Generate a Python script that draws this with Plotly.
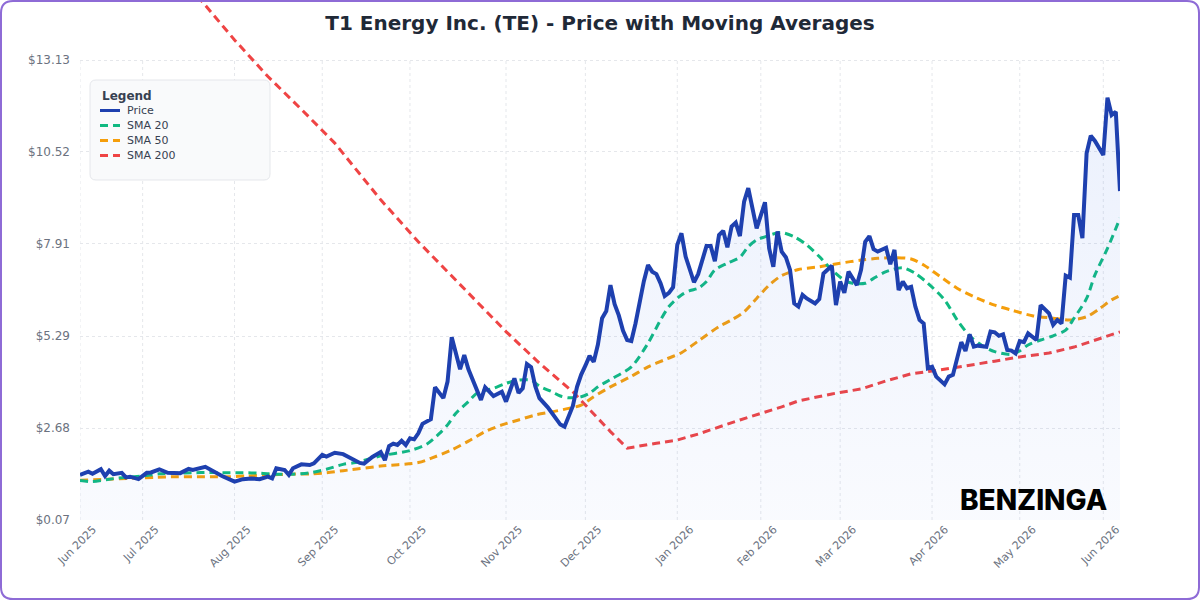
import plotly.graph_objects as go

# ---------------- data (trading-day index -> value) ----------------
month_tick_days = [0, 15, 37, 58, 79, 102, 121, 143, 163, 182, 204, 225, 245]
month_tick_labels = ["Jun 2025", "Jul 2025", "Aug 2025", "Sep 2025", "Oct 2025", "Nov 2025",
                     "Dec 2025", "Jan 2026", "Feb 2026", "Mar 2026", "Apr 2026", "May 2026", "Jun 2026"]
y_tick_values = [0.07, 2.68, 5.29, 7.91, 10.52, 13.13]
y_tick_labels = ["$0.07", "$2.68", "$5.29", "$7.91", "$10.52", "$13.13"]

price_day = [
    0, 2, 3, 5, 6, 7, 8, 10, 11, 12,
    14, 16, 17, 19, 21, 22, 24, 26, 27, 30,
    31, 33, 34, 37, 39, 41, 43, 45, 46, 47,
    49, 50, 51, 53, 55, 56, 58, 59, 61, 63,
    65, 67, 68, 70, 72, 73, 74, 75, 76, 77,
    78, 79, 80, 81, 82, 84, 85, 87, 88, 89,
    91, 92, 93, 95, 96, 97, 99, 101, 102, 103,
    104, 105, 106, 107, 108, 109, 110, 112, 114, 115,
    116, 117, 118, 119, 120, 121, 122, 123, 124, 125,
    126, 127, 128, 129, 130, 131, 132, 133, 134, 135,
    136, 137, 138, 139, 140, 141, 142, 143, 144, 145,
    147, 148, 150, 151, 152, 153, 154, 155, 156, 157,
    158, 159, 160, 162, 164, 165, 166, 167, 168, 169,
    170, 171, 172, 173, 174, 176, 177, 178, 180, 181,
    182, 183, 184, 186, 187, 188, 189, 190, 191, 193,
    194, 195, 196, 197, 198, 199, 200, 201, 202, 203,
    204, 205, 207, 208, 209, 211, 212, 213, 214, 215,
    217, 218, 219, 220, 221, 222, 223, 224, 225, 226,
    227, 229, 230, 232, 233, 234, 235, 236, 237, 238,
    239, 240, 241, 242, 243, 245, 246, 247, 248, 249]
price_value = [
    1.35, 1.44, 1.38, 1.51, 1.32, 1.47, 1.37, 1.41, 1.28, 1.30,
    1.23, 1.41, 1.42, 1.51, 1.41, 1.41, 1.40, 1.52, 1.49, 1.58,
    1.51, 1.40, 1.32, 1.16, 1.23, 1.25, 1.23, 1.30, 1.25, 1.54,
    1.49, 1.35, 1.54, 1.65, 1.63, 1.68, 1.92, 1.87, 1.98, 1.94,
    1.83, 1.69, 1.67, 1.86, 2.00, 1.77, 2.17, 2.24, 2.20, 2.32,
    2.20, 2.39, 2.36, 2.53, 2.80, 2.93, 3.84, 3.53, 4.00, 5.26,
    4.35, 4.75, 4.35, 3.76, 3.48, 3.84, 3.59, 3.71, 3.43, 3.76,
    4.09, 3.68, 3.81, 4.50, 4.41, 3.87, 3.53, 3.27, 2.96, 2.78,
    2.72, 3.05, 3.31, 3.85, 4.20, 4.45, 4.73, 4.56, 5.05, 5.80,
    6.00, 6.74, 6.20, 5.88, 5.45, 5.18, 5.15, 5.65, 6.30, 6.85,
    7.31, 7.12, 7.05, 6.79, 6.43, 6.52, 6.68, 7.88, 8.21, 7.55,
    6.82, 7.05, 7.85, 7.85, 7.42, 8.16, 8.28, 7.81, 8.40, 8.51,
    8.13, 9.11, 9.49, 8.35, 9.09, 7.78, 7.26, 8.26, 7.69, 7.53,
    7.17, 6.22, 6.13, 6.46, 6.36, 6.22, 6.34, 7.07, 7.29, 6.17,
    6.84, 6.52, 7.12, 6.74, 7.17, 7.97, 8.13, 7.76, 7.69, 7.80,
    7.33, 7.74, 6.60, 6.84, 6.65, 6.69, 6.13, 5.75, 5.65, 4.38,
    4.42, 4.14, 3.92, 4.14, 4.19, 5.12, 4.87, 5.34, 4.99, 5.02,
    4.99, 5.42, 5.40, 5.30, 5.34, 4.90, 4.88, 4.80, 5.15, 5.12,
    5.37, 5.18, 6.17, 5.94, 5.61, 5.75, 5.65, 7.01, 6.95, 8.73,
    8.73, 8.07, 10.48, 10.98, 10.83, 10.43, 12.06, 11.57, 11.66, 9.41]

sma20_day = [0, 3, 7, 11, 15, 19, 23, 27, 31, 35,
             39, 43, 47, 51, 55, 59, 63, 66, 72, 79,
             83, 86, 88, 90, 93, 95, 99, 102, 105, 108,
             110, 113, 115, 117, 120, 122, 124, 127, 132, 136,
             139, 141, 144, 146, 148, 150, 152, 155, 158, 160,
             162, 164, 166, 168, 171, 174, 177, 180, 183, 185,
             188, 190, 193, 197, 200, 203, 207, 210, 213, 216,
             219, 223, 225, 227, 230, 233, 236, 238, 241, 243,
             246, 249]
sma20_value = [1.19, 1.16, 1.23, 1.28, 1.32, 1.38, 1.40, 1.41, 1.42, 1.41,
               1.41, 1.40, 1.37, 1.37, 1.41, 1.51, 1.65, 1.70, 1.89, 2.04,
               2.22, 2.52, 2.77, 3.10, 3.43, 3.67, 3.81, 3.95, 4.04, 4.04,
               3.87, 3.71, 3.59, 3.54, 3.57, 3.67, 3.85, 4.06, 4.42, 5.09,
               5.75, 6.13, 6.46, 6.58, 6.65, 6.84, 7.17, 7.36, 7.53, 7.83,
               8.02, 8.11, 8.19, 8.23, 8.11, 7.88, 7.55, 7.17, 6.88, 6.79,
               6.79, 6.93, 7.12, 7.23, 7.07, 6.79, 6.32, 5.75, 5.30, 5.02,
               4.85, 4.77, 4.87, 5.04, 5.18, 5.30, 5.46, 5.80, 6.36, 7.03,
               7.78, 8.64]

sma50_day = [0, 7, 12, 18, 23, 28, 32, 36, 40, 45,
             50, 55, 59, 63, 72, 81, 84, 89, 93, 97,
             101, 105, 109, 113, 117, 120, 123, 127, 132, 136,
             140, 144, 148, 153, 156, 159, 162, 165, 168, 172,
             177, 182, 187, 191, 195, 199, 202, 206, 210, 214,
             219, 223, 228, 233, 237, 241, 244, 247, 249]
sma50_value = [1.20, 1.23, 1.25, 1.28, 1.30, 1.30, 1.30, 1.30, 1.32, 1.35,
               1.37, 1.38, 1.41, 1.47, 1.60, 1.70, 1.82, 2.06, 2.31, 2.58,
               2.77, 2.91, 3.05, 3.14, 3.24, 3.33, 3.57, 3.85, 4.15, 4.42,
               4.62, 4.82, 5.15, 5.56, 5.75, 5.98, 6.36, 6.74, 7.01, 7.18,
               7.26, 7.36, 7.45, 7.50, 7.52, 7.48, 7.31, 6.98, 6.65, 6.41,
               6.17, 6.03, 5.87, 5.80, 5.75, 5.84, 6.06, 6.32, 6.44]

sma200_day = [0, 29, 37, 45, 53, 61, 72, 81, 90, 94,
              102, 110, 118, 127, 131, 138, 143, 148, 158, 168,
              172, 180, 187, 193, 199, 206, 212, 219, 225, 232,
              238, 243, 249]
sma200_value = [18.90, 14.83, 13.70, 12.66, 11.73, 10.77, 9.16, 7.97, 6.88, 6.41,
                5.42, 4.52, 3.71, 2.58, 2.11, 2.25, 2.34, 2.51, 2.91, 3.28,
                3.45, 3.65, 3.79, 4.02, 4.22, 4.33, 4.44, 4.58, 4.70, 4.81,
                4.98, 5.18, 5.41]

# ---------------- layout geometry ----------------
W, H = 1200, 600
PL, PR, PT, PB = 80, 1120, 0, 520          # plot area in pixels
Y_BOTTOM, Y_GRID_TOP = y_tick_values[0], y_tick_values[-1]
Y_TOP = Y_BOTTOM + (Y_GRID_TOP - Y_BOTTOM) * (PB - PT) / (PB - 60)

FONT = "DejaVu Sans"
BLUE, GREEN, ORANGE, RED = "#1e40af", "#10b981", "#f59e0b", "#ef4444"
DASH = "8px,5px"


def px_x(px):
    return (px - PL) / (PR - PL)


def px_y(py):
    return (PB - py) / (PB - PT)


def rr_path(x0, y0, x1, y1, r):
    def p(x, y):
        return f"{px_x(x):.6f},{px_y(y):.6f}"
    return (f"M {p(x0 + r, y0)} L {p(x1 - r, y0)} Q {p(x1, y0)} {p(x1, y0 + r)} "
            f"L {p(x1, y1 - r)} Q {p(x1, y1)} {p(x1 - r, y1)} "
            f"L {p(x0 + r, y1)} Q {p(x0, y1)} {p(x0, y1 - r)} "
            f"L {p(x0, y0 + r)} Q {p(x0, y0)} {p(x0 + r, y0)} Z")


fig = go.Figure()

fig.add_trace(go.Scatter(x=sma200_day, y=sma200_value, mode="lines", name="SMA 200",
                         line=dict(color=RED, width=3, dash=DASH), hoverinfo="skip"))
fig.add_trace(go.Scatter(x=sma50_day, y=sma50_value, mode="lines", name="SMA 50",
                         line=dict(color=ORANGE, width=3, dash=DASH, shape="spline", smoothing=0.8),
                         hoverinfo="skip"))
fig.add_trace(go.Scatter(x=sma20_day, y=sma20_value, mode="lines", name="SMA 20",
                         line=dict(color=GREEN, width=3, dash=DASH, shape="spline", smoothing=0.8),
                         hoverinfo="skip"))
fig.add_trace(go.Scatter(x=price_day, y=price_value, mode="lines", name="Price",
                         line=dict(color=BLUE, width=4),
                         fill="tozeroy",
                         fillgradient=dict(type="vertical",
                                           colorscale=[[0, "rgba(59,110,230,0.03)"],
                                                       [1, "rgba(59,110,230,0.10)"]],
                                           start=Y_BOTTOM, stop=max(price_value)),
                         hoverinfo="skip"))

shapes = []
# vertical dotted grid lines (month ticks)
for d in month_tick_days:
    shapes.append(dict(type="line", xref="x", yref="y", x0=d, x1=d, y0=Y_BOTTOM, y1=Y_GRID_TOP,
                       line=dict(color="#e5e7eb", width=1, dash="dot"), layer="below"))

# legend box
shapes.append(dict(type="path", xref="paper", yref="paper", path=rr_path(90, 80, 270, 180, 6),
                   fillcolor="#f9fafb", line=dict(color="#e5e7eb", width=1), layer="above"))
legend_items = [("Price", BLUE, "solid", 3), ("SMA 20", GREEN, DASH, 3),
                ("SMA 50", ORANGE, DASH, 3), ("SMA 200", RED, DASH, 3)]
annotations = [dict(text="<b>Legend</b>", x=px_x(100), y=px_y(96), xref="paper", yref="paper",
                    xanchor="left", yanchor="middle", showarrow=False,
                    font=dict(family=FONT, size=12, color="#374151"))]
for k, (label, color, dash, w) in enumerate(legend_items):
    yy = 110.5 + k * 15
    shapes.append(dict(type="line", xref="paper", yref="paper", x0=px_x(100), x1=px_x(120),
                       y0=px_y(yy), y1=px_y(yy), line=dict(color=color, width=w, dash=dash),
                       layer="above"))
    annotations.append(dict(text=label, x=px_x(125), y=px_y(yy), xref="paper", yref="paper",
                            xanchor="left", yanchor="middle", showarrow=False,
                            font=dict(family=FONT, size=11, color="#374151")))

# watermark
annotations.append(dict(text="BENZINGA", x=px_x(1033), y=px_y(500), xref="paper", yref="paper",
                        xanchor="center", yanchor="middle", showarrow=False,
                        font=dict(family="Inter", size=28, color="#000000", weight=800)))

# outer rounded border
shapes.append(dict(type="path", xref="paper", yref="paper", path=rr_path(1, 1, W - 1, H - 1, 12),
                   fillcolor="rgba(0,0,0,0)", line=dict(color="#8e6bd6", width=2), layer="above"))

fig.update_layout(
    width=W, height=H, autosize=False,
    margin=dict(l=PL, r=W - PR, t=PT, b=H - PB, pad=0),
    paper_bgcolor="white", plot_bgcolor="white",
    showlegend=False, hovermode=False,
    title=dict(text="T1 Energy Inc. (TE) - Price with Moving Averages",
               font=dict(family=FONT, size=20, color="#1f2937", weight="bold"),
               x=0.5, xanchor="center", xref="container",
               y=1 - 23 / H, yanchor="middle", yref="container"),
    xaxis=dict(range=[0, 249], tickmode="array", tickvals=month_tick_days, ticktext=month_tick_labels,
               tickangle=-45, tickfont=dict(family=FONT, size=11, color="#6b7280"),
               ticklabelshift=13,
               showgrid=False, zeroline=False, showline=False, ticks=""),
    yaxis=dict(range=[Y_BOTTOM, Y_TOP], tickmode="array", tickvals=y_tick_values, ticktext=y_tick_labels,
               tickfont=dict(family=FONT, size=12, color="#6b7280"),
               showgrid=True, gridcolor="#e5e7eb", gridwidth=1, griddash="dot",
               zeroline=False, showline=False, ticks="", ticklabelstandoff=9),
    shapes=shapes, annotations=annotations,
    font=dict(family=FONT),
)

fig.write_html("out.html", include_plotlyjs=True, config={"displayModeBar": False})
